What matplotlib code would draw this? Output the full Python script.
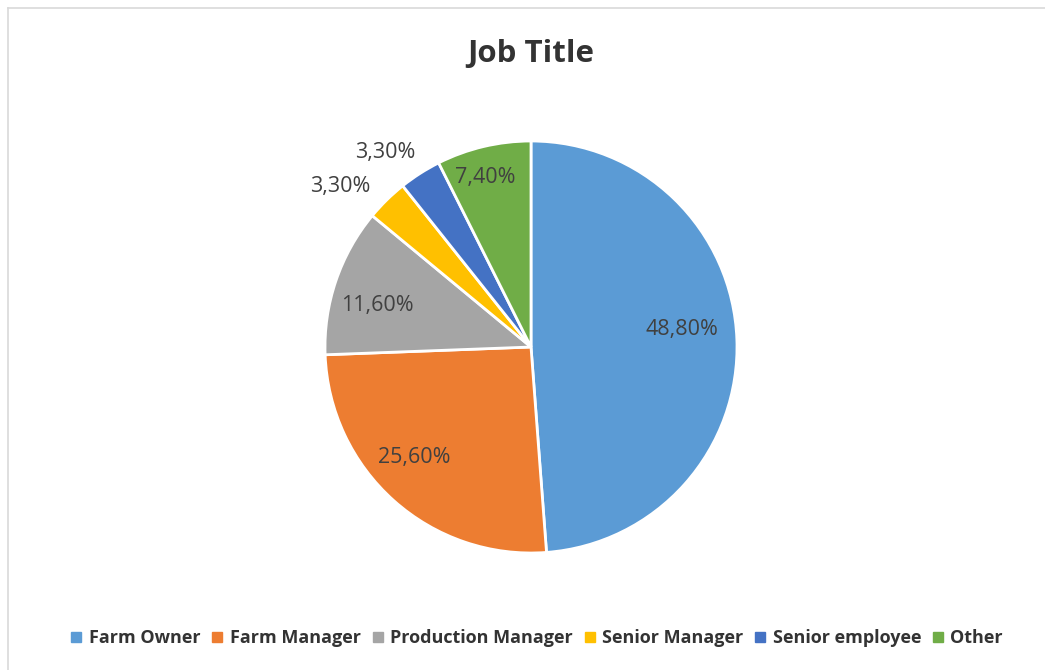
import matplotlib
matplotlib.use("Agg")
import matplotlib.pyplot as plt
from matplotlib.lines import Line2D
import numpy as np

categories = ["Farm Owner", "Farm Manager", "Production Manager",
              "Senior Manager", "Senior employee", "Other"]
values = [48.8, 25.6, 11.6, 3.3, 3.3, 7.4]
labels = ["48,80%", "25,60%", "11,60%", "3,30%", "3,30%", "7,40%"]
colors = ["#5B9BD5", "#ED7D31", "#A5A5A5", "#FFC000", "#4472C4", "#70AD47"]

# label placement style (radius fraction, angle offset deg)
label_dist = [0.74, 0.78, 0.77, 1.21, 1.18, 0.85]
label_dang = [4.5, -4.8, 3.7, 5.5, 4.2, 1.7]

W, H = 1045, 670
fig = plt.figure(figsize=(W / 100, H / 100), dpi=100)
plt.rcParams['font.family'] = ['Open Sans', 'DejaVu Sans']

# chart border (top and left visible)
fig.add_artist(Line2D([8 / W, 8 / W], [0, 1 - 8 / H], transform=fig.transFigure,
                      color="#D9D9D9", lw=1.2))
fig.add_artist(Line2D([8 / W, 1], [1 - 8 / H, 1 - 8 / H], transform=fig.transFigure,
                      color="#D9D9D9", lw=1.2))

cx, cy, r = 531, 347, 206
ax = fig.add_axes([(cx - r) / W, (H - cy - r) / H, 2 * r / W, 2 * r / H])
wedges, _ = ax.pie(values, colors=colors, startangle=90, counterclock=False,
                   radius=1.0, wedgeprops=dict(edgecolor="white", linewidth=2.0))
ax.set_xlim(-1, 1)
ax.set_ylim(-1, 1)
ax.set_aspect("equal")
ax.axis("off")

for w, lab, d, da in zip(wedges, labels, label_dist, label_dang):
    ang = np.deg2rad((w.theta1 + w.theta2) / 2 + da)
    ax.text(d * np.cos(ang), d * np.sin(ang), lab, ha="center", va="center",
            fontsize=15.5, color="#404040", clip_on=False)

fig.text(531 / W, 1 - 54 / H, "Job Title", ha="center", va="center",
         fontsize=22.5, fontweight="bold", color="#333333")

handles = [Line2D([], [], marker="s", linestyle="none", markersize=7,
                  markerfacecolor=c, markeredgecolor=c) for c in colors]
leg = fig.legend(handles, categories, loc="center", ncol=6,
                 bbox_to_anchor=(537 / W, 1 - 638 / H), frameon=False,
                 handlelength=0.6, handletextpad=0.4, columnspacing=0.62,
                 prop=dict(size=13, weight="bold"))
for t in leg.get_texts():
    t.set_color("#333333")

fig.savefig("out.png", dpi=100, facecolor="white")
